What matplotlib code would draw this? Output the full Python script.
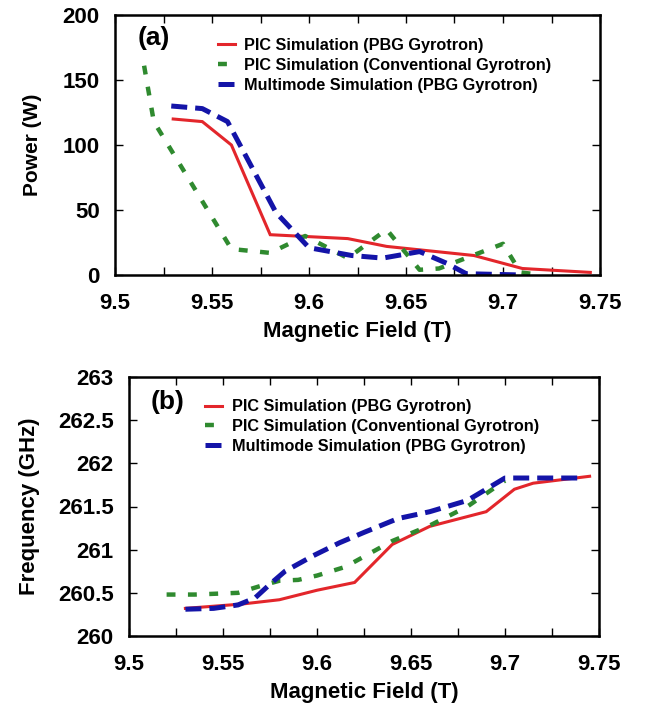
import matplotlib
matplotlib.use("Agg")
import matplotlib.pyplot as plt
from matplotlib.ticker import MultipleLocator, FuncFormatter

plt.rcParams["font.family"] = ["Liberation Sans", "DejaVu Sans"]
plt.rcParams["font.weight"] = "bold"

# ---- (a) output power vs magnetic field ----
pic_pbg_b = [9.53, 9.545, 9.56, 9.58, 9.62, 9.64, 9.685, 9.71, 9.745]
pic_pbg_p = [120, 118, 100, 31, 28, 22, 15, 5, 2]

pic_conv_b = [9.515, 9.52, 9.56, 9.58, 9.598, 9.62, 9.64, 9.657, 9.667, 9.70, 9.709, 9.72]
pic_conv_p = [161, 118, 20, 17, 30, 13, 35, 4, 5, 24, 2, 0]

multi_b = [9.529, 9.545, 9.558, 9.583, 9.60, 9.622, 9.638, 9.657, 9.671, 9.681, 9.71]
multi_p = [130, 128, 118, 48, 21, 15, 13, 18, 9, 1, 0]

# ---- (b) frequency vs magnetic field ----
pic_pbg_fb = [9.53, 9.56, 9.58, 9.60, 9.62, 9.64, 9.66, 9.69, 9.705, 9.715, 9.745]
pic_pbg_f = [260.32, 260.37, 260.42, 260.53, 260.62, 261.06, 261.27, 261.44, 261.70, 261.77, 261.85]

pic_conv_fb = [9.52, 9.535, 9.558, 9.57, 9.58, 9.59, 9.60, 9.615, 9.64, 9.66, 9.68, 9.70]
pic_conv_f = [260.48, 260.48, 260.50, 260.58, 260.64, 260.65, 260.70, 260.80, 261.10, 261.28, 261.50, 261.80]

multi_fb = [9.53, 9.545, 9.558, 9.567, 9.575, 9.583, 9.598, 9.612, 9.625, 9.643, 9.66, 9.68, 9.70, 9.74]
multi_f = [260.31, 260.32, 260.36, 260.44, 260.60, 260.75, 260.93, 261.08, 261.20, 261.36, 261.44, 261.57, 261.83, 261.83]

labels = ["PIC Simulation (PBG Gyrotron)",
          "PIC Simulation (Conventional Gyrotron)",
          "Multimode Simulation (PBG Gyrotron)"]

RED = "#e3262b"
GREEN = "#2f8a2f"
BLUE = "#1414a8"

W, H = 662, 713
fig = plt.figure(figsize=(W / 100, H / 100), dpi=100)


def frac(l, t, r, b):
    return [l / W, 1 - b / H, (r - l) / W, (b - t) / H]


ax1 = fig.add_axes(frac(115, 15, 600, 275))
ax2 = fig.add_axes(frac(129, 377, 599, 636))


def draw(ax, xs_list, ys_list):
    ax.plot(xs_list[0], ys_list[0], color=RED, lw=2.2, label=labels[0],
            solid_joinstyle="miter")
    ax.plot(xs_list[1], ys_list[1], color=GREEN, lw=3.2, label=labels[1],
            dashes=(2.0, 2.8), dash_capstyle="butt")
    ax.plot(xs_list[2], ys_list[2], color=BLUE, lw=3.6, label=labels[2],
            dashes=(3.2, 1.6), dash_capstyle="butt")


draw(ax1, [pic_pbg_b, pic_conv_b, multi_b], [pic_pbg_p, pic_conv_p, multi_p])
draw(ax2, [pic_pbg_fb, pic_conv_fb, multi_fb], [pic_pbg_f, pic_conv_f, multi_f])

fmt = FuncFormatter(lambda v, p: "%g" % round(v, 4))

for ax in (ax1, ax2):
    ax.set_xlim(9.5, 9.75)
    ax.xaxis.set_major_locator(MultipleLocator(0.05))
    ax.xaxis.set_minor_locator(MultipleLocator(0.025))
    ax.xaxis.set_major_formatter(fmt)
    ax.yaxis.set_major_formatter(fmt)
    ax.tick_params(axis="both", which="both", direction="in", top=True,
                   right=True, length=6, width=1.0, labelsize=16, pad=11)
    ax.tick_params(axis="x", which="major", pad=13)
    for lbl in ax.get_xticklabels() + ax.get_yticklabels():
        lbl.set_fontweight("bold")
    for s in ax.spines.values():
        s.set_linewidth(1.8)
    ax.set_xlabel("Magnetic Field (T)", fontsize=16, fontweight="bold",
                  labelpad=5)

ax1.set_ylim(0, 200)
ax1.yaxis.set_major_locator(MultipleLocator(50))
ax1.set_ylabel("Power (W)", fontsize=15, fontweight="bold", labelpad=15)

ax2.set_ylim(260, 263)
ax2.yaxis.set_major_locator(MultipleLocator(0.5))
ax2.set_ylabel("Frequency (GHz)", fontsize=16, fontweight="bold", labelpad=13)

ax1.text(0.047, 0.91, "(a)", transform=ax1.transAxes, fontsize=19,
         fontweight="bold", va="center", ha="left")
ax2.text(0.045, 0.905, "(b)", transform=ax2.transAxes, fontsize=19,
         fontweight="bold", va="center", ha="left")

for ax, anchor in ((ax1, (0.188, 0.955)), (ax2, (0.138, 0.958))):
    ax.legend(loc="upper left", bbox_to_anchor=anchor, frameon=False,
              prop={"size": 11.7, "weight": "bold"}, handlelength=1.05,
              handletextpad=0.6, labelspacing=0.3, borderaxespad=0.3)

fig.savefig("out.png", dpi=100, facecolor="white")
